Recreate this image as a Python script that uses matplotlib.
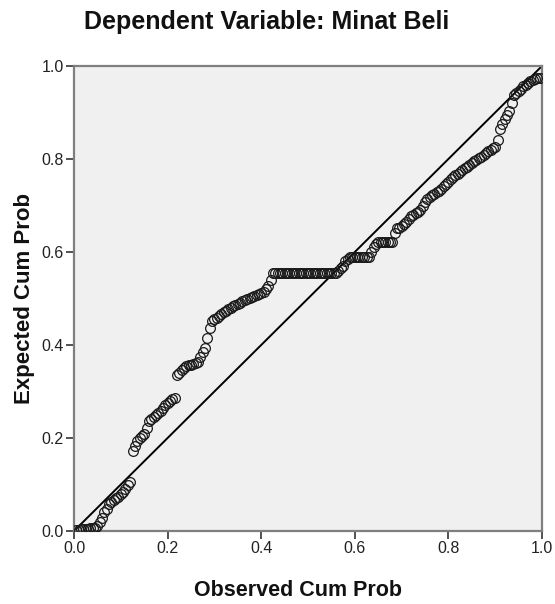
import matplotlib
matplotlib.use("Agg")
import matplotlib.pyplot as plt

# ---------------- Data ----------------

observed = [
    0.005, 0.010, 0.015, 0.020, 0.025, 0.030, 0.035, 0.040, 0.045, 0.050,
    0.055, 0.060, 0.065, 0.070, 0.075, 0.080, 0.085, 0.090, 0.095, 0.100,
    0.105, 0.110, 0.115, 0.120, 0.125, 0.130, 0.135, 0.140, 0.145, 0.150,
    0.155, 0.160, 0.165, 0.170, 0.175, 0.180, 0.185, 0.190, 0.195, 0.200,
    0.205, 0.210, 0.215, 0.220, 0.225, 0.230, 0.235, 0.240, 0.245, 0.250,
    0.255, 0.260, 0.265, 0.270, 0.275, 0.280, 0.285, 0.290, 0.295, 0.300,
    0.305, 0.310, 0.315, 0.320, 0.325, 0.330, 0.335, 0.340, 0.345, 0.350,
    0.355, 0.360, 0.365, 0.370, 0.375, 0.380, 0.385, 0.390, 0.395, 0.400,
    0.405, 0.410, 0.415, 0.420, 0.425, 0.430, 0.435, 0.440, 0.445, 0.450,
    0.455, 0.460, 0.465, 0.470, 0.475, 0.480, 0.485, 0.490, 0.495, 0.500,
    0.505, 0.510, 0.515, 0.520, 0.525, 0.530, 0.535, 0.540, 0.545, 0.550,
    0.555, 0.560, 0.565, 0.570, 0.575, 0.580, 0.585, 0.590, 0.595, 0.600,
    0.605, 0.610, 0.615, 0.620, 0.625, 0.630, 0.635, 0.640, 0.645, 0.650,
    0.655, 0.660, 0.665, 0.670, 0.675, 0.680, 0.685, 0.690, 0.695, 0.700,
    0.705, 0.710, 0.715, 0.720, 0.725, 0.730, 0.735, 0.740, 0.745, 0.750,
    0.755, 0.760, 0.765, 0.770, 0.775, 0.780, 0.785, 0.790, 0.795, 0.800,
    0.805, 0.810, 0.815, 0.820, 0.825, 0.830, 0.835, 0.840, 0.845, 0.850,
    0.855, 0.860, 0.865, 0.870, 0.875, 0.880, 0.885, 0.890, 0.895, 0.900,
    0.905, 0.910, 0.915, 0.920, 0.925, 0.930, 0.935, 0.940, 0.945, 0.950,
    0.955, 0.960, 0.965, 0.970, 0.975, 0.980, 0.985, 0.990, 0.995,
]

expected = [
    0.003, 0.003, 0.004, 0.004, 0.005, 0.005, 0.006, 0.006, 0.007, 0.010,
    0.020, 0.028, 0.040, 0.048, 0.057, 0.062, 0.066, 0.070, 0.074, 0.079,
    0.084, 0.091, 0.098, 0.105, 0.172, 0.183, 0.193, 0.199, 0.204, 0.209,
    0.222, 0.236, 0.240, 0.245, 0.249, 0.254, 0.259, 0.265, 0.270, 0.275,
    0.279, 0.283, 0.287, 0.335, 0.340, 0.346, 0.351, 0.354, 0.356, 0.358,
    0.360, 0.361, 0.363, 0.374, 0.385, 0.394, 0.415, 0.437, 0.451, 0.455,
    0.458, 0.462, 0.466, 0.470, 0.473, 0.477, 0.480, 0.483, 0.486, 0.488,
    0.491, 0.494, 0.497, 0.500, 0.502, 0.504, 0.506, 0.508, 0.510, 0.512,
    0.515, 0.521, 0.527, 0.540, 0.555, 0.555, 0.555, 0.555, 0.555, 0.555,
    0.555, 0.555, 0.555, 0.555, 0.555, 0.555, 0.555, 0.555, 0.555, 0.555,
    0.555, 0.555, 0.555, 0.555, 0.555, 0.555, 0.555, 0.555, 0.555, 0.555,
    0.555, 0.555, 0.560, 0.565, 0.570, 0.580, 0.586, 0.589, 0.589, 0.589,
    0.589, 0.589, 0.589, 0.589, 0.589, 0.589, 0.600, 0.610, 0.618, 0.622,
    0.622, 0.622, 0.622, 0.622, 0.622, 0.622, 0.640, 0.652, 0.652, 0.655,
    0.660, 0.665, 0.672, 0.677, 0.680, 0.684, 0.687, 0.691, 0.700, 0.708,
    0.715, 0.718, 0.722, 0.725, 0.728, 0.732, 0.736, 0.741, 0.746, 0.751,
    0.756, 0.761, 0.765, 0.768, 0.772, 0.776, 0.780, 0.783, 0.787, 0.791,
    0.795, 0.798, 0.802, 0.805, 0.809, 0.813, 0.817, 0.820, 0.823, 0.826,
    0.840, 0.865, 0.876, 0.887, 0.895, 0.903, 0.920, 0.938, 0.942, 0.946,
    0.951, 0.956, 0.960, 0.964, 0.967, 0.970, 0.972, 0.974, 0.975,
]

ticks = [0.0, 0.2, 0.4, 0.6, 0.8, 1.0]
tick_labels = ["0.0", "0.2", "0.4", "0.6", "0.8", "1.0"]

title = "Dependent Variable: Minat Beli"
xlabel = "Observed Cum Prob"
ylabel = "Expected Cum Prob"

# ---------------- Plot ----------------

plt.rcParams["font.family"] = ["Liberation Sans", "DejaVu Sans"]

fig = plt.figure(figsize=(5.55, 6.04), dpi=100)
ax = fig.add_axes([74 / 555, 1 - 531 / 604, 468 / 555, 465 / 604])
ax.set_facecolor("#f0f0f0")

ax.plot([0, 1], [0, 1], color="black", lw=1.4, zorder=2)
ax.plot(observed, expected, linestyle="none", marker="o", markersize=7,
        markerfacecolor="none", markeredgecolor="#1a1a1a",
        markeredgewidth=0.9, zorder=3)

ax.set_xlim(0, 1)
ax.set_ylim(0, 1)
ax.set_xticks(ticks)
ax.set_xticklabels(tick_labels)
ax.set_yticks(ticks)
ax.set_yticklabels(tick_labels)
ax.tick_params(direction="out", length=6, width=1.2, color="#333333",
               labelsize=11.5, labelcolor="#222222", pad=1.5)

for side in ax.spines.values():
    side.set_color("#7f7f7f")
    side.set_linewidth(1.6)

fig.text(267 / 555, 1 - 22 / 604, title, ha="center", va="center",
         fontsize=18, fontweight="bold", color="#111111")
fig.text(298 / 555, 1 - 590 / 604, xlabel, ha="center", va="center",
         fontsize=15.5, fontweight="bold", color="#111111")
fig.text(25 / 555, 1 - 298 / 604, ylabel, ha="center", va="center",
         rotation=90, fontsize=16, fontweight="bold", color="#111111")

fig.savefig("out.png", dpi=100, facecolor="white")
